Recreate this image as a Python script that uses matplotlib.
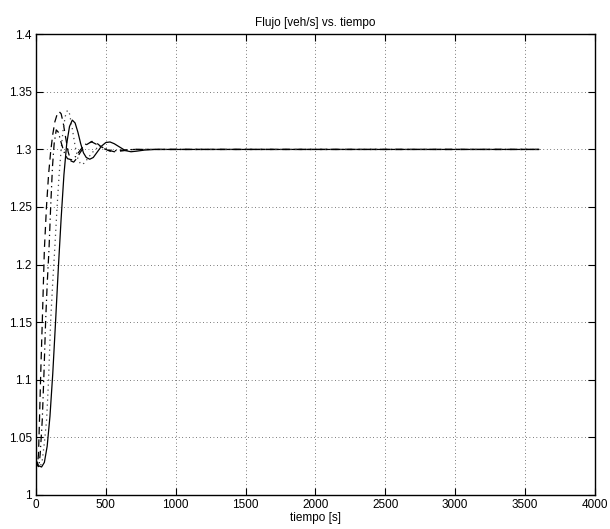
import matplotlib.pyplot as plt
from matplotlib.ticker import FormatStrFormatter, MultipleLocator

plt.rcParams['font.family'] = ['Liberation Sans', 'DejaVu Sans']

# Flow curves (time in s, flow in veh/s)
t_solid = [0, 20, 40, 60, 80, 100, 120, 140, 160, 180, 200, 220, 240, 260, 280,
           300, 320, 340, 360, 385, 410, 440, 470, 500, 530, 560, 600, 640, 680,
           720, 780, 850, 3600]
q_solid = [1.030, 1.025, 1.024, 1.028, 1.042, 1.068, 1.105, 1.150, 1.197, 1.240,
           1.278, 1.305, 1.320, 1.3255, 1.323, 1.315, 1.305, 1.297, 1.293, 1.2915,
           1.293, 1.298, 1.303, 1.306, 1.3065, 1.305, 1.302, 1.299, 1.298,
           1.2985, 1.2995, 1.300, 1.300]

t_dash = [0, 10, 18, 25, 35, 45, 60, 75, 90, 105, 120, 135, 150, 165, 180, 195,
          210, 230, 250, 270, 290, 320, 360, 400, 430, 460, 500, 560, 620, 700, 3600]
q_dash = [1.030, 1.025, 1.035, 1.065, 1.110, 1.150, 1.213, 1.250, 1.278, 1.298,
          1.313, 1.324, 1.330, 1.333, 1.331, 1.323, 1.312, 1.298, 1.290, 1.289,
          1.292, 1.298, 1.304, 1.307, 1.306, 1.303, 1.300, 1.298, 1.2988, 1.300, 1.300]

t_dashdot = [0, 10, 20, 30, 45, 57, 69, 81, 93, 105, 118, 130, 145, 160, 180,
             200, 225, 255, 285, 320, 360, 400, 440, 480, 530, 600, 700, 3600]
q_dashdot = [1.030, 1.026, 1.024, 1.035, 1.065, 1.105, 1.151, 1.185, 1.213,
             1.250, 1.285, 1.305, 1.317, 1.315, 1.306, 1.298, 1.292, 1.291,
             1.294, 1.300, 1.305, 1.3065, 1.304, 1.301, 1.2985, 1.2992, 1.300, 1.300]

t_dot = [0, 15, 30, 45, 60, 76, 90, 105, 120, 134, 150, 165, 180, 195, 210, 225,
         240, 260, 280, 300, 320, 345, 370, 400, 435, 470, 510, 560, 620, 700, 3600]
q_dot = [1.030, 1.026, 1.024, 1.030, 1.045, 1.065, 1.100, 1.151, 1.185, 1.213,
         1.248, 1.277, 1.300, 1.318, 1.329, 1.334, 1.331, 1.318, 1.303, 1.292,
         1.287, 1.288, 1.292, 1.297, 1.301, 1.302, 1.3005, 1.299, 1.2995, 1.300, 1.300]

fig = plt.figure(figsize=(6.10, 5.29), dpi=100)
ax = fig.add_axes([0.059, 0.065, 0.916, 0.870])

ax.plot(t_solid, q_solid, color='black', linestyle='-', linewidth=0.9)
ax.plot(t_dash, q_dash, color='black', linestyle=(0, (6, 4)), linewidth=0.9)
ax.plot(t_dot, q_dot, color='#444444', linestyle=(0, (1, 3)), linewidth=0.9)
ax.plot(t_dashdot, q_dashdot, color='black', linestyle=(0, (6, 3, 1, 3)), linewidth=0.9)

ax.set_xlim(0, 4000)
ax.set_ylim(1, 1.4)
ax.xaxis.set_major_locator(MultipleLocator(500))
ax.yaxis.set_major_locator(MultipleLocator(0.05))
ax.xaxis.set_major_formatter(FormatStrFormatter('%g'))
ax.yaxis.set_major_formatter(FormatStrFormatter('%g'))
ax.tick_params(direction='in', length=5, width=0.8, top=True, right=True,
               labelsize=8.5, pad=3)
ax.grid(True, color='black', linestyle=(0, (1, 4)), linewidth=0.5)
for s in ax.spines.values():
    s.set_linewidth(1.0)

ax.set_title('Flujo [veh/s] vs. tiempo', fontsize=8.5, pad=6)
ax.set_xlabel('tiempo [s]', fontsize=8.5, labelpad=1)

fig.savefig('out.png', dpi=100)
